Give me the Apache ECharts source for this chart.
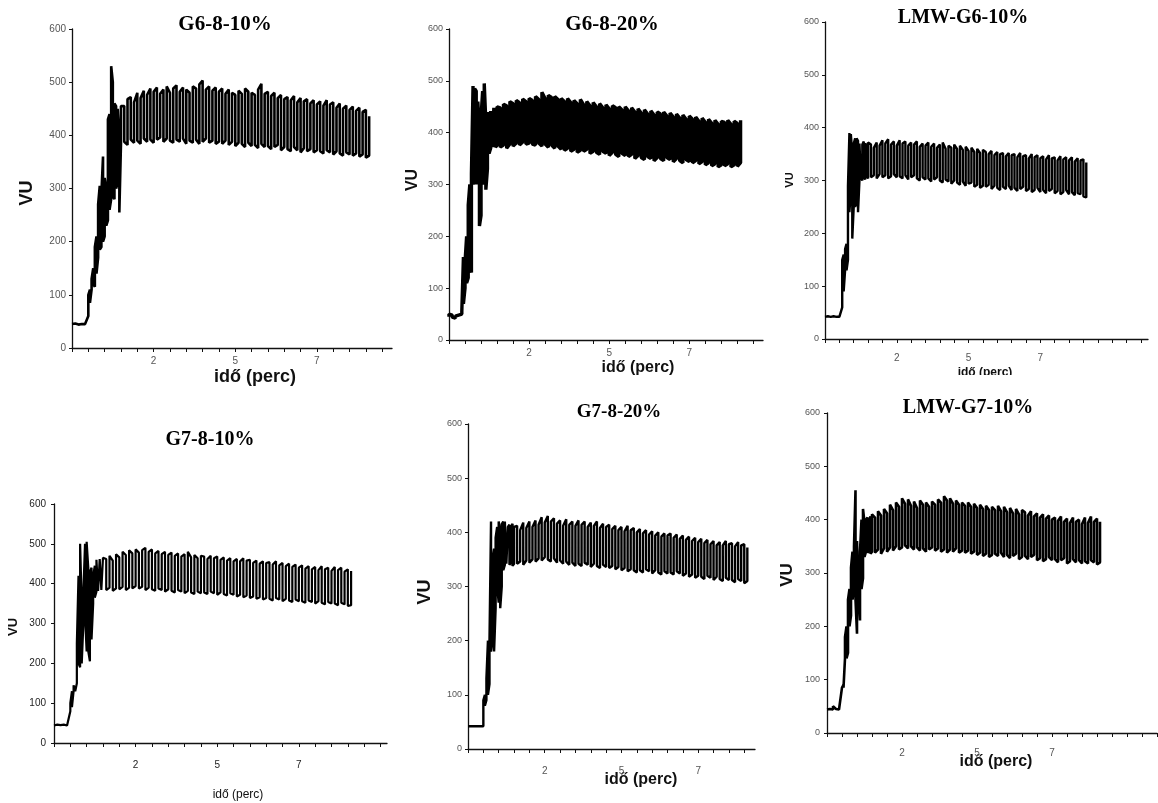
<!DOCTYPE html>
<html>
<head>
<meta charset="utf-8">
<script src="https://cdn.jsdelivr.net/npm/echarts@6/dist/echarts.min.js"></script>
<style>html,body{margin:0;padding:0;background:#fff}#c{width:1158px;height:803px}</style>
</head>
<body>
<div id="c"></div>
<script>
// time grid (minutes)
const times = [0,0.1,0.2,0.3,0.4,0.45,0.5,0.55,0.6,0.65,0.7,0.75,0.8,0.85,0.9,0.95,1,1.05,1.1,1.15,1.2,1.25,1.3,1.35,1.4,1.45,1.5,
1.6,1.7,1.8,1.9,2,2.1,2.2,2.3,2.4,2.5,
2.6,2.7,2.8,2.9,3,3.1,3.2,3.3,3.4,3.5,
3.6,3.7,3.8,3.9,4,4.1,4.2,4.3,4.4,4.5,
4.6,4.7,4.8,4.9,5,5.1,5.2,5.3,5.4,5.5,
5.6,5.7,5.8,5.9,6,6.1,6.2,6.3,6.4,6.5,
6.6,6.7,6.8,6.9,7,7.1,7.2,7.3,7.4,7.5,
7.6,7.7,7.8,7.9,8,8.1,8.2,8.3,8.4,8.5,
8.6,8.7,8.8,8.9,9,9.1];

// G6-8-10%
const g6_10_lo = [45,45,44,44,45,
45,60,85,110,120,115,140,170,185,190,200,210,230,240,260,280,285,280,300,310,255,385,
388,382,392,386,390,384,394,388,392,386,
392,396,388,394,390,386,392,388,394,384,
390,386,392,384,388,394,386,390,384,388,
384,390,382,388,380,386,384,378,386,380,
382,376,384,378,380,374,378,382,372,378,
374,370,378,372,368,376,370,374,368,372,
370,366,372,368,364,370,366,362,368,364,
362,366,360,364,358,362];
const g6_10_hi = [45,46,45,45,46,
46,100,110,130,150,190,210,270,305,290,360,320,300,430,440,530,500,460,455,450,400,455,
455,468,472,462,480,470,484,476,488,482,
490,478,486,492,480,488,494,482,490,486,
480,492,488,496,503,486,492,484,490,482,
488,478,486,480,476,484,478,488,482,480,
476,486,497,478,482,474,480,470,476,468,
472,466,474,462,470,464,468,460,466,458,
464,456,466,458,462,452,460,450,456,448,
454,446,452,444,448,436];

// G6-8-20%
const g6_20_lo = [45,44,42,45,50,
70,100,110,120,140,130,300,320,300,300,220,240,320,300,290,330,360,370,372,375,372,376,
372,376,370,378,374,380,376,382,378,380,
378,376,380,374,378,372,376,370,374,368,
366,370,364,368,362,366,364,368,360,364,
362,358,364,360,356,362,358,354,360,356,
354,358,350,356,352,348,354,350,346,352,
350,346,352,348,344,350,346,342,348,344,
342,346,340,344,338,342,336,340,334,338,
336,340,334,338,335,342];
const g6_20_hi = [50,48,46,48,55,
160,150,200,260,300,320,490,485,480,460,400,430,480,495,420,440,440,442,445,448,445,450,
448,455,452,460,456,462,458,465,460,466,
462,470,464,478,466,472,468,470,464,466,
460,466,458,462,456,464,454,460,452,458,
450,456,448,454,446,452,448,450,444,450,
442,448,440,446,438,444,436,442,434,440,
436,440,432,438,430,436,428,434,426,432,
426,430,422,428,420,426,418,424,416,422,
420,424,416,422,418,424];

// LMW-G6-10%
const lmw6_lo = [42,42,42,42,42,
42,42,42,60,90,130,130,150,240,280,190,250,250,260,240,300,305,300,306,302,308,304,
306,310,304,312,306,310,304,308,312,306,
308,304,310,302,306,310,304,300,306,302,
304,298,302,306,300,296,302,298,294,300,
296,292,298,290,294,296,288,292,286,290,
288,292,284,290,286,282,288,284,290,282,
286,280,284,288,280,284,278,282,286,278,
282,276,280,284,276,280,274,278,282,274,
278,272,276,274,270,268];
const lmw6_hi = [42,43,42,43,42,
43,42,43,150,160,170,180,290,390,388,350,370,380,380,375,370,372,368,374,370,366,372,
368,362,372,366,376,370,378,368,374,366,
376,370,374,366,372,368,374,364,370,366,
372,364,370,362,368,372,360,366,362,368,
360,366,358,364,356,362,354,360,352,358,
354,350,356,348,354,350,352,346,352,348,
350,344,352,346,348,342,350,344,348,342,
346,340,348,342,344,338,346,340,344,338,
344,336,342,338,340,334];

// G7-8-10%
const g7_10_lo = [44,44,45,44,44,
44,80,90,130,130,150,200,190,200,300,320,230,230,205,260,350,365,380,382,385,384,388,
384,390,382,388,386,392,384,390,388,394,
388,392,384,390,386,382,388,384,380,386,
382,378,384,380,376,382,378,374,380,376,
378,374,380,376,372,378,374,370,376,372,
368,372,366,370,364,368,362,366,360,364,
362,358,364,360,356,362,358,354,360,356,
356,352,358,354,350,356,352,348,354,350,
350,346,352,348,344,346];
const g7_10_hi = [45,46,50,46,45,
45,100,130,145,150,250,420,500,350,380,500,505,440,430,440,420,445,460,455,462,458,465,
462,470,458,474,466,480,472,484,476,486,
478,484,490,480,486,476,482,474,480,472,
478,470,476,468,474,480,466,472,464,470,
468,462,470,464,468,460,466,458,464,456,
462,456,464,458,460,452,458,450,456,452,
454,448,456,446,452,444,450,442,448,440,
446,438,444,436,442,434,444,436,440,432,
442,434,440,430,436,432];

// G7-8-20%
const g7_20_lo = [42,42,42,42,42,
42,42,80,90,100,120,180,200,180,260,300,270,260,300,330,340,342,345,340,344,338,342,
342,346,340,348,344,350,346,352,348,354,
350,346,352,344,348,342,346,340,344,338,
342,338,344,340,336,342,338,334,340,336,
334,338,332,336,330,334,328,332,330,326,
330,326,332,328,324,330,326,322,328,324,
326,322,328,324,320,324,318,322,316,320,
318,314,320,316,312,318,314,310,316,312,
312,308,314,310,306,310];
const g7_20_hi = [43,42,43,42,43,
42,90,100,130,200,200,420,350,370,390,410,420,400,415,420,420,418,410,414,408,416,410,
412,404,418,408,420,410,422,414,428,418,
430,420,426,416,422,412,424,414,420,412,
422,414,420,410,418,412,420,408,416,410,
414,406,412,404,410,402,412,404,408,400,
406,398,404,396,402,394,400,392,398,394,
398,390,396,388,394,386,392,384,390,382,
388,380,386,378,384,376,382,376,384,378,
380,374,382,376,378,372];

// LMW-G7-10%
const lmw7_lo = [44,44,44,45,44,
44,85,85,140,140,150,200,220,250,270,250,186,260,211,270,290,330,340,338,342,336,340,
338,344,336,346,340,348,342,350,344,348,
352,346,350,344,348,342,346,340,344,348,
342,346,340,344,338,344,340,346,338,342,
338,342,336,340,334,338,332,336,330,334,
336,332,338,330,334,328,332,336,326,330,
332,326,330,334,324,328,322,326,330,324,
326,320,324,328,318,322,326,320,324,318,
322,318,324,320,316,320];
const lmw7_hi = [44,45,50,45,44,
45,86,90,180,200,250,270,310,340,350,455,360,360,340,400,420,395,400,404,398,406,410,
404,416,408,420,412,428,418,432,424,440,
430,438,426,434,422,436,428,432,424,434,
428,438,432,444,436,440,430,436,428,432,
426,432,424,430,422,428,420,426,418,424,
418,426,416,424,414,422,412,420,410,418,
414,408,416,406,412,404,410,402,408,400,
404,398,406,396,402,394,404,396,400,392,
404,394,406,396,402,396];

// axis ticks and labels
const xTickValues = [0,0.5,1,1.5,2,2.5,3,3.5,4,4.5,5,5.5,6,6.5,7,7.5,8,8.5,9,9.5,10,10.5,11];
const xLabelValues = [2.5,5,7.5];
const xLabelTexts = ['2','5','7'];
const yLabelTexts = ['0','100','200','300','400','500','600'];

const titles = ['G6-8-10%','G6-8-20%','LMW-G6-10%','G7-8-10%','G7-8-20%','LMW-G7-10%'];
const yName = 'VU';
const xName = 'idő (perc)';

// layout / style config
const panels = [
  {lo:g6_10_lo, hi:g6_10_hi, left:72,  top:29,  width:320, height:319, xMax:9.8,  lw:2.6, yFs:10, yMargin:6, xMargin:8, labCol:'#555',
   title:[225,25,21], vu:[27,193,18,'bold'], xn:[255,377,18,'bold']},
  {lo:g6_20_lo, hi:g6_20_hi, left:449, top:29,  width:314, height:311, xMax:9.8,  lw:3.4, yFs:9, yMargin:6, xMargin:8, labCol:'#555',
   title:[612,25,21], vu:[413,180,16,'bold'], xn:[638,368,16,'bold']},
  {lo:lmw6_lo, hi:lmw6_hi,   left:825, top:22,  width:323, height:317, xMax:11.25,lw:2.4, yFs:9, yMargin:6, xMargin:14, labCol:'#555',
   title:[963,18,20], vu:[790,180,11,'bold'], xn:[985,373,12,'bold'], clip:true},
  {lo:g7_10_lo, hi:g7_10_hi, left:54,  top:504, width:333, height:239, xMax:10.2, lw:2.2, yFs:10, yMargin:8, xMargin:17, labCol:'#222',
   title:[210,440,20], vu:[13,627,13,'bold'], xn:[238,795,12,'normal']},
  {lo:g7_20_lo, hi:g7_20_hi, left:468, top:424, width:287, height:325, xMax:9.35, lw:2.4, yFs:9, yMargin:6, xMargin:17, labCol:'#555',
   title:[619,412,19], vu:[425,592,18,'bold'], xn:[641,780,16,'bold']},
  {lo:lmw7_lo, hi:lmw7_hi,   left:827, top:413, width:330, height:320, xMax:11,   lw:2.6, yFs:9, yMargin:7, xMargin:15, labCol:'#555',
   title:[968,408,20], vu:[787,575,17,'bold'], xn:[996,762,16,'bold']}
];

function wave(lo, hi) {
  const pts = [];
  for (let i = 0; i < lo.length; i++) {
    if (i % 2 === 0) { pts.push([times[i], lo[i]]); pts.push([times[i], hi[i]]); }
    else { pts.push([times[i], hi[i]]); pts.push([times[i], lo[i]]); }
  }
  return pts;
}

const SANS = "'Liberation Sans', Arial, sans-serif";
const SERIF = "'Liberation Serif', 'Times New Roman', serif";

const grid = [], xAxis = [], yAxis = [], series = [], graphic = [];
panels.forEach((p, i) => {
  grid.push({left:p.left, top:p.top, width:p.width, height:p.height, containLabel:false});
  xAxis.push({
    type:'value', gridIndex:i, min:0, max:p.xMax,
    axisLine:{show:true, onZero:false, lineStyle:{color:'#111', width:1.3}},
    axisTick:{show:true, length:4, customValues: xTickValues.filter(v => v <= p.xMax), lineStyle:{color:'#111', width:1}},
    axisLabel:{show:true, customValues: xLabelValues, margin:p.xMargin, fontSize:10, fontFamily:SANS, color:p.labCol,
      formatter: v => { const k = xLabelValues.indexOf(v); return k >= 0 ? xLabelTexts[k] : ''; }},
    splitLine:{show:false}
  });
  yAxis.push({
    type:'value', gridIndex:i, min:0, max:600, interval:100,
    axisLine:{show:true, lineStyle:{color:'#111', width:1.3}},
    axisTick:{show:true, length:3, lineStyle:{color:'#111'}},
    axisLabel:{margin:p.yMargin, fontSize:p.yFs, fontFamily:SANS, color:p.labCol,
      formatter: v => yLabelTexts[Math.round(v/100)]},
    splitLine:{show:false}
  });
  series.push({
    type:'line', xAxisIndex:i, yAxisIndex:i, data:wave(p.lo, p.hi),
    showSymbol:false, symbol:'none', animation:false, silent:true,
    lineStyle:{color:'#000', width:p.lw, join:'bevel', cap:'butt'}
  });
  graphic.push({type:'text', x:p.title[0], y:p.title[1], style:{text:titles[i], font:'bold '+p.title[2]+'px '+SERIF, fill:'#000', align:'center', verticalAlign:'middle'}});
  graphic.push({type:'text', x:p.vu[0], y:p.vu[1], rotation:Math.PI/2, style:{text:yName, font:p.vu[3]+' '+p.vu[2]+'px '+SANS, fill:'#111', align:'center', verticalAlign:'middle'}});
  graphic.push({type:'text', x:p.xn[0], y:p.xn[1], style:{text:xName, font:p.xn[3]+' '+p.xn[2]+'px '+SANS, fill:'#111', align:'center', verticalAlign:'middle'}});
  if (p.clip) {
    graphic.push({type:'rect', shape:{x:p.xn[0]-40, y:p.xn[1]+2, width:80, height:14}, style:{fill:'#fff'}, z:10});
  }
});

const chart = echarts.init(document.getElementById('c'), null, {renderer:'canvas'});
chart.setOption({animation:false, backgroundColor:'#fff', grid, xAxis, yAxis, series, graphic});
</script>
</body>
</html>
